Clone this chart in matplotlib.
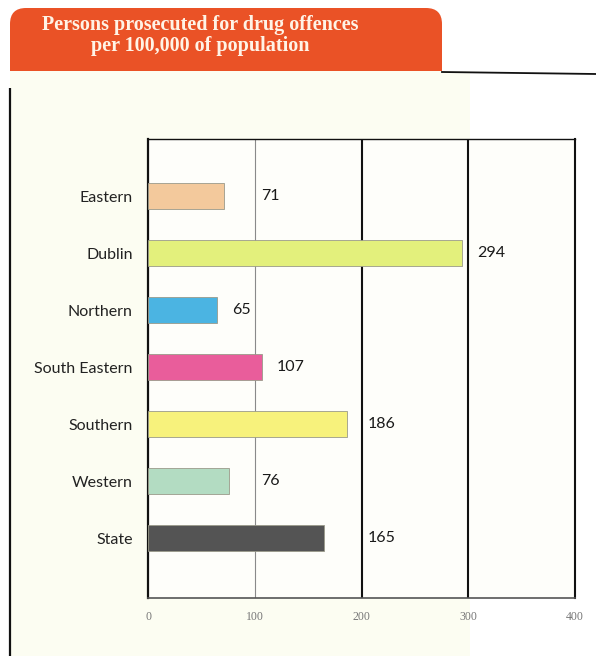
import matplotlib
matplotlib.use("Agg")
import matplotlib.pyplot as plt
from matplotlib.patches import FancyBboxPatch, Rectangle

# ---- data ----
regions = ["Eastern", "Dublin", "Northern", "South Eastern", "Southern", "Western", "State"]
rates = [71, 294, 65, 107, 186, 76, 165]
bar_colors = ["#f3c99c", "#e3f07c", "#4bb4e2", "#e95d9b", "#f7f27c", "#b3dcc2", "#545454"]
xticks = [0, 100, 200, 300, 400]
title_lines = ["Persons prosecuted for drug offences", "per 100,000 of population"]

W, H = 596, 656
fig = plt.figure(figsize=(W / 100, H / 100), dpi=100)
fig.patch.set_facecolor("white")

# background / decoration axes in pixel coordinates
bg = fig.add_axes([0, 0, 1, 1], zorder=0)
bg.set_xlim(0, W)
bg.set_ylim(H, 0)
bg.axis("off")

# pale cream panel
bg.add_patch(Rectangle((10, 71), 460, 585, facecolor="#fcfdf2", edgecolor="none"))
# orange title tab with rounded top corners
bg.add_patch(FancyBboxPatch((10, 8), 432, 63, boxstyle="round,pad=0,rounding_size=16",
                            facecolor="#ea5226", edgecolor="none"))
bg.add_patch(Rectangle((10, 40), 432, 31, facecolor="#ea5226", edgecolor="none"))
# frame lines
bg.plot([10, 10], [88, 656], color="#111111", lw=1.6, solid_capstyle="butt")
bg.plot([442, 596], [72, 74], color="#111111", lw=1.3)

title_font = ["Liberation Serif", "DejaVu Serif"]
bg.text(200, 25, title_lines[0], ha="center", va="center", color="#fff3e6",
        fontsize=14.5, fontweight="bold", family=title_font)
bg.text(200, 46, title_lines[1], ha="center", va="center", color="#fff3e6",
        fontsize=14.5, fontweight="bold", family=title_font)

# ---- main chart ----
left, right = 148 / W, 575 / W
bottom, top = (H - 598) / H, (H - 139) / H
ax = fig.add_axes([left, bottom, right - left, top - bottom], zorder=1)
ax.set_facecolor("#fefefa")

ypos = list(range(len(regions)))
ax.barh(ypos, rates, height=0.46, color=bar_colors, edgecolor="#9a9a8a", linewidth=0.6, zorder=3)

gridlines = [100, 200, 300]
for y, v in zip(ypos, rates):
    s = str(v)
    x = v + 14
    w = len(s) * 7.5
    # nudge a label to the right of a grid line it would otherwise cross
    for g in gridlines:
        if x - 3 < g < x + w + 3:
            x = g + 6
    ax.text(x, y, s, ha="left", va="center", fontsize=11.5,
            color="#1a1a1a", family=["Lato", "DejaVu Sans"])

ax.set_xlim(0, 400)
ax.set_ylim(len(regions) - 1 + 1.05, -1.0)
ax.set_yticks(ypos)
ax.set_yticklabels(regions, fontsize=11.5, color="#222222", family=["Lato", "DejaVu Sans"])
ax.set_xticks(xticks)
ax.set_xticklabels([str(t) for t in xticks], fontsize=8.5, color="#777777",
                   family=title_font)
ax.tick_params(axis="x", length=0, pad=9)
ax.tick_params(axis="y", length=0, pad=11)

# vertical grid lines
ax.axvline(100, color="#8a8a8a", lw=0.8, zorder=1)
for gx in [200, 300]:
    ax.axvline(gx, color="#111111", lw=1.5, zorder=1)

for side in ["left", "right", "top", "bottom"]:
    ax.spines[side].set_color("#111111")
ax.spines["left"].set_linewidth(1.6)
ax.spines["right"].set_linewidth(1.5)
ax.spines["top"].set_linewidth(1.0)
ax.spines["bottom"].set_linewidth(1.2)
ax.spines["bottom"].set_color("#555555")

fig.savefig("out.png", dpi=100, facecolor="white")
